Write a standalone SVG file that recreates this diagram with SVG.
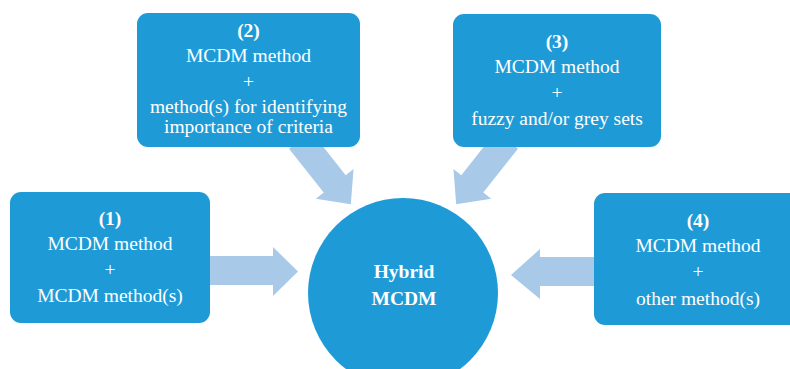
<svg xmlns="http://www.w3.org/2000/svg" width="790" height="369" viewBox="0 0 790 369">
<style>
.box{fill:#1e9bd7}
.arr{fill:#a8c9e8}
.t{fill:#ffffff;font-size:19.5px;text-anchor:middle;font-family:'Liberation Serif','Times New Roman',Times,'DejaVu Serif','Noto Serif',Tinos,serif}
.b{font-weight:bold}
</style>
<rect width="790" height="369" fill="#ffffff"/>
<g id="connectors">
<polygon class="arr" points="205,256 273,256 273,247 298,271.5 273,296 273,285 205,285"/>
<polygon class="arr" points="600,257 540,257 540,249 511,275 540,299 540,286 600,286"/>
<g transform="translate(300,140) rotate(51.7)">
<polygon class="arr" points="0,-14 56,-14 56,-24 82,0 56,24 56,14 0,14"/>
</g>
<g transform="translate(507,140) rotate(128.3)">
<polygon class="arr" points="0,-14 56,-14 56,-24 82,0 56,24 56,14 0,14"/>
</g>
</g>
<g id="node1">
<rect class="box" x="10" y="192" width="200" height="131" rx="11"/>
<text class="t b" x="110" y="225">(1)</text>
<text class="t" x="110" y="250">MCDM method</text>
<text class="t" x="110" y="276">+</text>
<text class="t" x="110" y="302">MCDM method(s)</text>
</g>
<g id="node2">
<rect class="box" x="137" y="13" width="223" height="134" rx="11"/>
<text class="t b" x="248.5" y="37">(2)</text>
<text class="t" x="248.5" y="62">MCDM method</text>
<text class="t" x="248.5" y="88">+</text>
<text class="t" x="248.5" y="113">method(s) for identifying</text>
<text class="t" x="248.5" y="133">importance of criteria</text>
</g>
<g id="node3">
<rect class="box" x="453" y="14" width="208" height="133" rx="11"/>
<text class="t b" x="557" y="48">(3)</text>
<text class="t" x="557" y="73">MCDM method</text>
<text class="t" x="557" y="99">+</text>
<text class="t" x="557" y="125">fuzzy and/or grey sets</text>
</g>
<g id="node4">
<rect class="box" x="594" y="193" width="210" height="132" rx="11"/>
<text class="t b" x="698" y="227">(4)</text>
<text class="t" x="698" y="252">MCDM method</text>
<text class="t" x="698" y="278">+</text>
<text class="t" x="698" y="305">other method(s)</text>
</g>
<g id="hybrid">
<circle class="box" cx="403" cy="293" r="95"/>
<text class="t b" x="404" y="278">Hybrid</text>
<text class="t b" x="404" y="305">MCDM</text>
</g>
</svg>
